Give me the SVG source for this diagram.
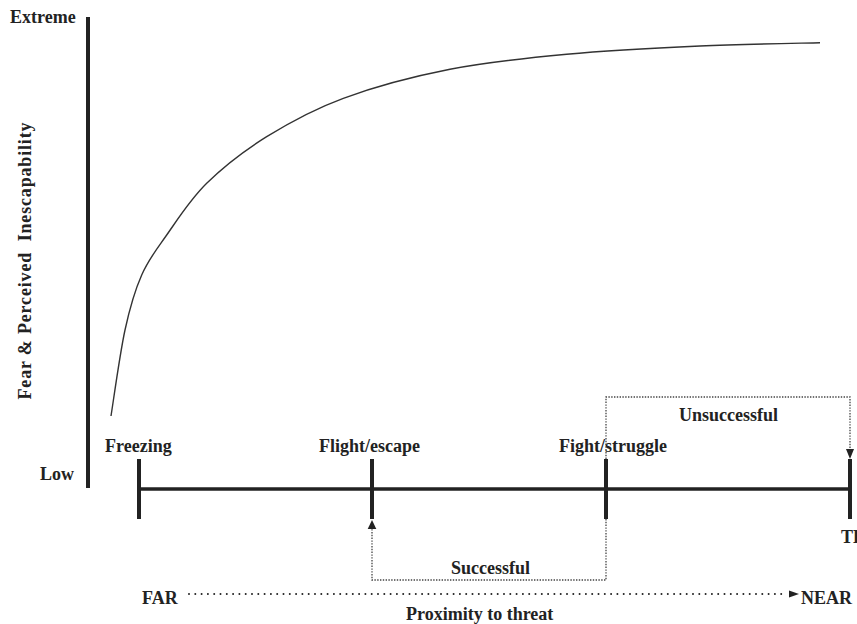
<svg xmlns="http://www.w3.org/2000/svg" width="857" height="624" viewBox="0 0 857 624">
<style>
text{font-family:"Liberation Serif","Times New Roman",serif;font-weight:bold;font-size:18px;fill:#222}
.axis{stroke:#222;stroke-width:4;fill:none}
.base{stroke:#222;stroke-width:3.5;fill:none}
.tick{stroke:#222;stroke-width:4;fill:none}
.dot{stroke:#444;stroke-width:1.3;fill:none;stroke-dasharray:1.4 1.4}
.far{stroke:#222;stroke-width:2;fill:none;stroke-dasharray:0 6.3;stroke-linecap:round}
.curve{stroke:#333;stroke-width:1.4;fill:none}
.head{fill:#222}
</style>
<g id="y-axis">
<line class="axis" x1="88" y1="17" x2="88" y2="488"/>
<text x="10" y="23">Extreme</text>
<text x="40" y="480">Low</text>
<text transform="translate(31,261) rotate(-90)" text-anchor="middle" font-size="19.5" textLength="277" lengthAdjust="spacing">Fear &amp; Perceived&#160; Inescapability</text>
</g>
<g id="curve">
<path class="curve" d="M111,416 C113.3,401.7 119.9,353.5 125,330 C130.1,306.5 134.7,290.8 141.7,275 C148.6,259.2 155.9,250.3 166.7,235 C177.5,219.7 190,199.7 206.7,183.3 C223.4,166.9 243.9,150.9 266.7,136.7 C289.5,122.5 312.8,109.5 343.3,98.3 C373.9,87.1 412.8,76.6 450,69.3 C487.2,62 525,58.2 566.7,54.3 C608.4,50.4 657.8,47.9 700,46 C742.2,44.1 800,43.2 820,42.7"/>
</g>
<g id="timeline">
<line class="base" x1="139" y1="489" x2="850" y2="489"/>
</g>
<g id="freezing">
<line class="tick" x1="139" y1="459" x2="139" y2="519"/>
<text x="105" y="452">Freezing</text>
</g>
<g id="flight">
<line class="tick" x1="372" y1="459" x2="372" y2="519"/>
<text x="319" y="452">Flight/escape</text>
</g>
<g id="fight">
<line class="tick" x1="606" y1="459" x2="606" y2="519"/>
<text x="559" y="452">Fight/struggle</text>
</g>
<g id="threat">
<line class="tick" x1="850" y1="459" x2="850" y2="519"/>
<text x="841" y="543">TH</text>
</g>
<g id="connectors">
<path class="dot" d="M606,519 V580 H372 V529"/>
<polygon class="head" points="372,520 367.7,529 376.3,529"/>
<text x="451" y="574">Successful</text>
<path class="dot" d="M606,459 V397 H850 V449"/>
<polygon class="head" points="850,459 846,449 854,449"/>
<text x="679" y="421">Unsuccessful</text>
</g>
<g id="proximity">
<text x="142" y="604">FAR</text>
<line class="far" x1="189" y1="594" x2="787" y2="594"/>
<polygon class="head" points="799,594 789,590.5 789,597.5"/>
<text x="801" y="604">NEAR</text>
<text x="406" y="620">Proximity to threat</text>
</g>
</svg>
